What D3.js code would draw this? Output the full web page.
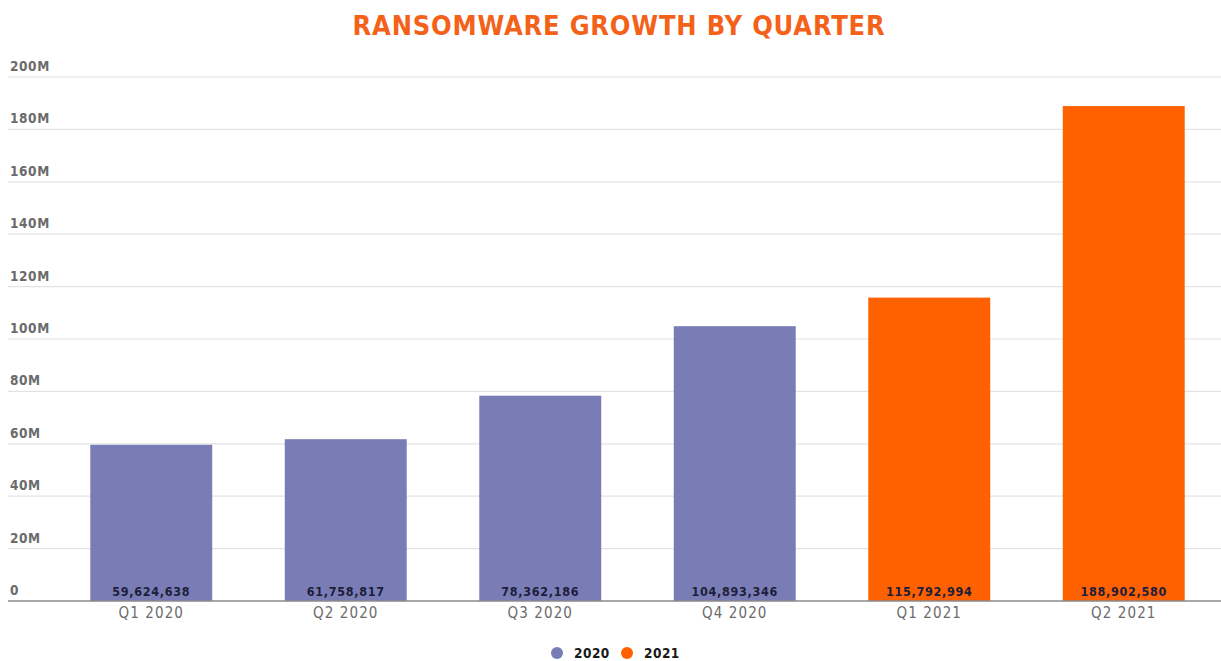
<!DOCTYPE html>
<html>
<head>
<meta charset="utf-8">
<script src="https://cdn.jsdelivr.net/npm/d3@7"></script>
<style>
  html, body { margin: 0; padding: 0; background: #ffffff; }
  svg { display: block; }
  text { font-family: "DejaVu Sans Condensed", "DejaVu Sans", sans-serif; }
</style>
</head>
<body>
<svg id="chart" width="1221" height="661"></svg>
<script>
// Quarterly ransomware attempts
const quarters = ["Q1 2020", "Q2 2020", "Q3 2020", "Q4 2020", "Q1 2021", "Q2 2021"];
const years = ["2020", "2020", "2020", "2020", "2021", "2021"];
const attempts = [59624638, 61758817, 78362186, 104893346, 115792994, 188902580];
const yTicks = [0, 20e6, 40e6, 60e6, 80e6, 100e6, 120e6, 140e6, 160e6, 180e6, 200e6];
const legendYears = ["2020", "2021"];

const yearColor = d3.scaleOrdinal().domain(legendYears).range(["#7a7db5", "#ff6000"]);

const W = 1221, H = 661;
const svg = d3.select("#chart");

const x = d3.scaleBand()
  .domain(quarters)
  .range([54, 1221])
  .paddingInner(0.373)
  .paddingOuter(0.1865);

const y = d3.scaleLinear().domain([0, 200e6]).range([601, 77]);

// Title
svg.append("text")
  .attr("x", 619).attr("y", 35)
  .attr("text-anchor", "middle")
  .attr("font-size", 27).attr("font-weight", "bold")
  .attr("letter-spacing", 0.8)
  .attr("fill", "#f4621a")
  .text("RANSOMWARE GROWTH BY QUARTER");

// Gridlines and y labels
const grid = svg.append("g");
grid.selectAll("line")
  .data(yTicks.filter(d => d > 0))
  .join("line")
  .attr("x1", 8).attr("x2", W)
  .attr("y1", d => y(d)).attr("y2", d => y(d))
  .attr("stroke", "#e3e3e3").attr("stroke-width", 1.2);

grid.selectAll("text")
  .data(yTicks)
  .join("text")
  .attr("x", 10)
  .attr("y", d => y(d) - 6)
  .attr("font-size", 13.5).attr("font-weight", "bold")
  .attr("letter-spacing", 0.6)
  .attr("fill", "#6b6b6b")
  .text(d => d === 0 ? "0" : d3.format("d")(d / 1e6) + "M");

// Bars
svg.append("g").selectAll("rect")
  .data(quarters)
  .join("rect")
  .attr("x", d => x(d))
  .attr("width", x.bandwidth())
  .attr("y", (d, i) => y(attempts[i]))
  .attr("height", (d, i) => y(0) - y(attempts[i]))
  .attr("fill", (d, i) => yearColor(years[i]));

// Baseline
svg.append("line")
  .attr("x1", 8).attr("x2", W)
  .attr("y1", y(0)).attr("y2", y(0))
  .attr("stroke", "#8a8a8a").attr("stroke-width", 1.5);

// Value labels inside bars
svg.append("g").selectAll("text")
  .data(quarters)
  .join("text")
  .attr("x", d => x(d) + x.bandwidth() / 2)
  .attr("y", y(0) - 5)
  .attr("text-anchor", "middle")
  .attr("font-size", 12.5).attr("font-weight", "bold")
  .attr("letter-spacing", 0.7)
  .attr("fill", "#1c1e3a")
  .text((d, i) => d3.format(",")(attempts[i]));

// Category labels
svg.append("g").selectAll("text")
  .data(quarters)
  .join("text")
  .attr("x", d => x(d) + x.bandwidth() / 2)
  .attr("y", y(0) + 17)
  .attr("text-anchor", "middle")
  .attr("font-size", 15)
  .attr("letter-spacing", 1.1)
  .attr("fill", "#6b6b6b")
  .text(d => d);

// Legend
const legend = svg.append("g");
const legendX = [557, 627];
legendYears.forEach((yr, i) => {
  legend.append("circle")
    .attr("cx", legendX[i]).attr("cy", 653).attr("r", 6)
    .attr("fill", yearColor(yr));
  legend.append("text")
    .attr("x", legendX[i] + 17).attr("y", 658)
    .attr("font-size", 13.5).attr("font-weight", "bold")
    .attr("letter-spacing", 0.5)
    .attr("fill", "#1a1a1a")
    .text(yr);
});
</script>
</body>
</html>
